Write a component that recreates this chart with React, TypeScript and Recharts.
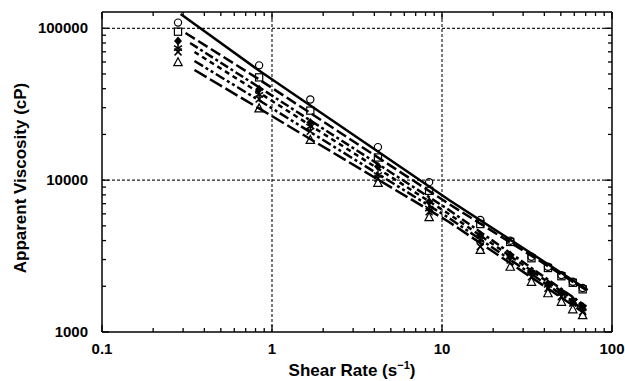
import {
  ReferenceLine,
  Scatter,
  ScatterChart,
  XAxis,
  YAxis,
} from "recharts";

// shear rates of the measured points (s^-1)
const shearRates = [0.28, 0.84, 1.68, 4.2, 8.4, 16.8, 25.2, 33.6, 42, 50.4, 58.8, 67.2];

// apparent viscosity (cP) for each sample, one value per shear rate
const circleSeries = [109000, 57000, 34000, 16500, 9700, 5470, 3990, 3130, 2690, 2370, 2140, 1950];
const squareSeries = [95000, 47500, 28700, 14100, 8500, 5140, 3920, 3060, 2640, 2330, 2110, 1910];
const diamondSeries = [82600, 39600, 24000, 12300, 7200, 4350, 3210, 2500, 2090, 1840, 1620, 1470];
const starSeries = [74000, 36400, 22500, 10800, 6500, 4040, 3130, 2450, 2040, 1800, 1600, 1440];
const crossSeries = [69900, 34200, 21000, 10300, 6200, 3650, 2980, 2310, 1940, 1710, 1550, 1360];
const triangleSeries = [59800, 29700, 18400, 9600, 5700, 3470, 2690, 2140, 1800, 1580, 1410, 1290];

// fitted curves: [shear rate, viscosity] pairs
const fitCircle = [[0.29, 124200], [0.83, 53100], [11, 7400], [72, 1890]];
const fitSquare = [[0.31, 93100], [0.83, 46400], [11, 6960], [72, 1860]];
const fitDiamond = [[0.33, 80000], [0.83, 41200], [11, 6360], [70, 1480]];
const fitStar = [[0.35, 69800], [0.83, 38000], [11, 5980], [70, 1440]];
const fitCross = [[0.35, 60900], [0.83, 33800], [11, 5630], [70, 1375]];
const fitTriangle = [[0.35, 53100], [0.83, 29900], [11, 5300], [70, 1315]];

const xTicks = [
  0.1, 0.2, 0.3, 0.4, 0.5, 0.6, 0.7, 0.8, 0.9,
  1, 2, 3, 4, 5, 6, 7, 8, 9,
  10, 20, 30, 40, 50, 60, 70, 80, 90, 100,
];
const yTicks = [
  1000, 2000, 3000, 4000, 5000, 6000, 7000, 8000, 9000,
  10000, 20000, 30000, 40000, 50000, 60000, 70000, 80000, 90000,
  100000,
];

const FONT = "'Liberation Sans', Arial, sans-serif";
const INK = "#000";

const toPoints = (ys: number[]) => ys.map((y, i) => ({ x: shearRates[i], y }));
const toLine = (pairs: number[][]) => pairs.map(([x, y]) => ({ x, y }));

const isMajor = (v: number) => {
  const l = Math.log10(v);
  return Math.abs(l - Math.round(l)) < 1e-6;
};

function BottomTick({ x, y, payload }: any) {
  const major = isMajor(payload.value);
  return (
    <g>
      <line x1={x} x2={x} y1={y} y2={y - (major ? 7 : 4)} stroke={INK} strokeWidth={1.3} />
      {major && (
        <text x={x} y={y + 22} textAnchor="middle" fontFamily={FONT} fontWeight="bold" fontSize={15} fill={INK}>
          {String(payload.value)}
        </text>
      )}
    </g>
  );
}

function TopTick({ x, y, payload }: any) {
  const major = isMajor(payload.value);
  return <line x1={x} x2={x} y1={y} y2={y + (major ? 7 : 4)} stroke={INK} strokeWidth={1.3} />;
}

function LeftTick({ x, y, payload }: any) {
  const major = isMajor(payload.value);
  return (
    <g>
      <line x1={x} x2={x + (major ? 7 : 4)} y1={y} y2={y} stroke={INK} strokeWidth={1.3} />
      {major && (
        <text x={x - 14} y={y + 5} textAnchor="end" fontFamily={FONT} fontWeight="bold" fontSize={15} fill={INK}>
          {String(payload.value)}
        </text>
      )}
    </g>
  );
}

function RightTick({ x, y, payload }: any) {
  const major = isMajor(payload.value);
  return <line x1={x} x2={x - (major ? 7 : 4)} y1={y} y2={y} stroke={INK} strokeWidth={1.3} />;
}

// marker shapes
const CircleMark = ({ cx, cy }: any) => (
  <circle cx={cx} cy={cy} r={3.6} fill="none" stroke={INK} strokeWidth={1.2} />
);
const SquareMark = ({ cx, cy }: any) => (
  <rect x={cx - 3.6} y={cy - 3.6} width={7.2} height={7.2} fill="none" stroke={INK} strokeWidth={1.2} />
);
const DiamondMark = ({ cx, cy }: any) => (
  <polygon points={`${cx},${cy - 4.5} ${cx + 4},${cy} ${cx},${cy + 4.5} ${cx - 4},${cy}`} fill={INK} />
);
const StarMark = ({ cx, cy }: any) => (
  <g stroke={INK} strokeWidth={1.5}>
    <line x1={cx} x2={cx} y1={cy - 4.5} y2={cy + 4.5} />
    <line x1={cx - 4} x2={cx + 4} y1={cy - 2.5} y2={cy + 2.5} />
    <line x1={cx - 4} x2={cx + 4} y1={cy + 2.5} y2={cy - 2.5} />
  </g>
);
const CrossMark = ({ cx, cy }: any) => (
  <g stroke={INK} strokeWidth={1.5}>
    <line x1={cx - 3.5} x2={cx + 3.5} y1={cy - 3.5} y2={cy + 3.5} />
    <line x1={cx - 3.5} x2={cx + 3.5} y1={cy + 3.5} y2={cy - 3.5} />
  </g>
);
const TriangleMark = ({ cx, cy }: any) => (
  <polygon
    points={`${cx},${cy - 4.5} ${cx + 4.2},${cy + 3.5} ${cx - 4.2},${cy + 3.5}`}
    fill="none"
    stroke={INK}
    strokeWidth={1.2}
  />
);
const NoMark = () => <g />;

const fits = [
  { name: "fit-circle", data: fitCircle, dash: undefined },
  { name: "fit-square", data: fitSquare, dash: "11 4" },
  { name: "fit-diamond", data: fitDiamond, dash: "9 3 3 3" },
  { name: "fit-star", data: fitStar, dash: "5 4" },
  { name: "fit-cross", data: fitCross, dash: "10 3 3 3 3 3" },
  { name: "fit-triangle", data: fitTriangle, dash: "14 4" },
];

const samples = [
  { name: "circle", data: circleSeries, shape: CircleMark },
  { name: "square", data: squareSeries, shape: SquareMark },
  { name: "diamond", data: diamondSeries, shape: DiamondMark },
  { name: "star", data: starSeries, shape: StarMark },
  { name: "cross", data: crossSeries, shape: CrossMark },
  { name: "triangle", data: triangleSeries, shape: TriangleMark },
];

const gridStyle = { stroke: "#222", strokeWidth: 1.2, strokeDasharray: "3 2" };

export default function App() {
  return (
    <div style={{ position: "absolute", left: 0, top: 0, background: "#fff" }}>
      <ScatterChart width={625} height={381} margin={{ top: 11, right: 12, bottom: 0, left: 0 }}>
        <XAxis
          type="number"
          dataKey="x"
          scale="log"
          domain={[0.1, 100]}
          ticks={xTicks}
          interval={0}
          allowDataOverflow
          height={49}
          tickSize={0}
          tickMargin={0}
          tickLine={false}
          tick={<BottomTick />}
          axisLine={{ stroke: INK, strokeWidth: 1.5 }}
        />
        <XAxis
          xAxisId="top"
          orientation="top"
          type="number"
          dataKey="x"
          scale="log"
          domain={[0.1, 100]}
          ticks={xTicks}
          interval={0}
          allowDataOverflow
          height={1}
          tickSize={0}
          tickMargin={0}
          tickLine={false}
          tick={<TopTick />}
          axisLine={{ stroke: INK, strokeWidth: 1.5 }}
        />
        <YAxis
          type="number"
          dataKey="y"
          scale="log"
          domain={[1000, 128000]}
          ticks={yTicks}
          interval={0}
          allowDataOverflow
          width={102}
          tickSize={0}
          tickMargin={0}
          tickLine={false}
          tick={<LeftTick />}
          axisLine={{ stroke: INK, strokeWidth: 1.5 }}
        />
        <YAxis
          yAxisId="right"
          orientation="right"
          type="number"
          dataKey="y"
          scale="log"
          domain={[1000, 128000]}
          ticks={yTicks}
          interval={0}
          allowDataOverflow
          width={1}
          tickSize={0}
          tickMargin={0}
          tickLine={false}
          tick={<RightTick />}
          axisLine={{ stroke: INK, strokeWidth: 1.5 }}
        />

        <ReferenceLine x={1} {...gridStyle} />
        <ReferenceLine x={10} {...gridStyle} />
        <ReferenceLine y={10000} {...gridStyle} />
        <ReferenceLine y={100000} {...gridStyle} />

        {fits.map((f) => (
          <Scatter
            key={f.name}
            name={f.name}
            data={toLine(f.data)}
            line={{ stroke: INK, strokeWidth: 2.5, strokeDasharray: f.dash }}
            lineType="joint"
            shape={NoMark}
            isAnimationActive={false}
          />
        ))}
        {samples.map((s) => (
          <Scatter
            key={s.name}
            name={s.name}
            data={toPoints(s.data)}
            shape={s.shape}
            isAnimationActive={false}
          />
        ))}

        <text
          x={352}
          y={376}
          textAnchor="middle"
          fontFamily={FONT}
          fontWeight="bold"
          fontSize={17}
          fill={INK}
        >
          Shear Rate (s
          <tspan fontSize={11} dy={-7}>−1</tspan>
          <tspan dy={7}>)</tspan>
        </text>
        <text
          x={26}
          y={178}
          transform="rotate(-90 26 178)"
          textAnchor="middle"
          fontFamily={FONT}
          fontWeight="bold"
          fontSize={17}
          fill={INK}
        >
          Apparent Viscosity (cP)
        </text>
      </ScatterChart>
    </div>
  );
}
